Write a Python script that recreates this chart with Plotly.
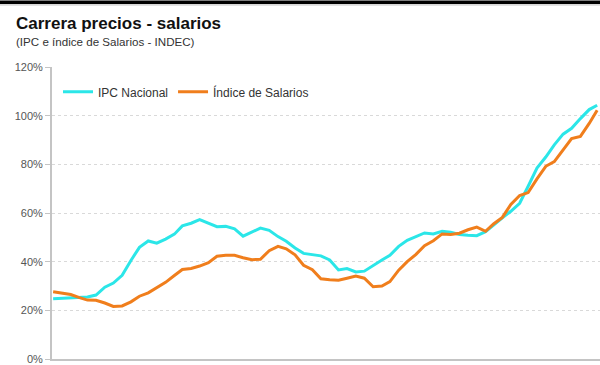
import plotly.graph_objects as go

months = [
    "2017-12-01",
    "2018-01-01", "2018-02-01", "2018-03-01", "2018-04-01", "2018-05-01", "2018-06-01",
    "2018-07-01", "2018-08-01", "2018-09-01", "2018-10-01", "2018-11-01", "2018-12-01",
    "2019-01-01", "2019-02-01", "2019-03-01", "2019-04-01", "2019-05-01", "2019-06-01",
    "2019-07-01", "2019-08-01", "2019-09-01", "2019-10-01", "2019-11-01", "2019-12-01",
    "2020-01-01", "2020-02-01", "2020-03-01", "2020-04-01", "2020-05-01", "2020-06-01",
    "2020-07-01", "2020-08-01", "2020-09-01", "2020-10-01", "2020-11-01", "2020-12-01",
    "2021-01-01", "2021-02-01", "2021-03-01", "2021-04-01", "2021-05-01", "2021-06-01",
    "2021-07-01", "2021-08-01", "2021-09-01", "2021-10-01", "2021-11-01", "2021-12-01",
    "2022-01-01", "2022-02-01", "2022-03-01", "2022-04-01", "2022-05-01", "2022-06-01",
    "2022-07-01", "2022-08-01", "2022-09-01", "2022-10-01", "2022-11-01", "2022-12-01",
    "2023-01-01", "2023-02-01", "2023-03-01",
]

ipc_nacional = [
    24.8,
    25.0, 25.4, 25.4, 25.5, 26.3, 29.5,
    31.2, 34.4, 40.5, 45.9, 48.5, 47.6,
    49.3, 51.3, 54.7, 55.8, 57.3, 55.8,
    54.4, 54.5, 53.5, 50.5, 52.1, 53.8,
    52.9, 50.3, 48.4, 45.6, 43.4, 42.8,
    42.4, 40.7, 36.6, 37.2, 35.8, 36.1,
    38.5, 40.7, 42.6, 46.3, 48.8, 50.2,
    51.8, 51.4, 52.5, 52.1, 51.2, 50.9,
    50.7, 52.3, 55.1, 58.0, 60.7, 64.0,
    71.0, 78.5, 83.0, 88.0, 92.4, 94.8,
    98.8, 102.5, 104.3,
]

indice_salarios = [
    27.6,
    27.2, 26.5, 25.3, 24.2, 24.1, 23.0,
    21.6, 21.8, 23.5, 25.8, 27.2, 29.3,
    31.5, 34.3, 36.8, 37.2, 38.2, 39.6,
    42.2, 42.6, 42.6, 41.6, 40.8, 41.0,
    44.5, 46.3, 45.3, 42.8, 38.5, 36.7,
    33.0, 32.6, 32.4, 33.2, 34.1, 33.2,
    29.7, 30.0, 31.8, 36.5, 40.0, 43.0,
    46.6, 48.6, 51.4, 51.2, 51.7, 53.1,
    54.2, 52.5, 55.5, 58.2, 63.5, 67.2,
    68.4, 74.0, 79.2, 81.1, 86.0, 90.6,
    91.5, 96.8, 102.2,
]

y_ticks = [0, 20, 40, 60, 80, 100, 120]
y_tick_labels = ["0%", "20%", "40%", "60%", "80%", "100%", "120%"]

W, H = 600, 365
ML, MR, MT, MB = 52, 0, 67, 4
PW, PH = W - ML - MR, H - MT - MB


def px_x(p):
    return (p - ML) / PW


def px_y(p):
    return (H - MB - p) / PH


fig = go.Figure()
fig.add_trace(go.Scatter(
    x=months, y=ipc_nacional, mode="lines", name="IPC Nacional",
    line=dict(color="#2be6e8", width=3),
))
fig.add_trace(go.Scatter(
    x=months, y=indice_salarios, mode="lines", name="Índice de Salarios",
    line=dict(color="#f07e1c", width=3),
))

fig.update_layout(
    width=W, height=H,
    margin=dict(l=ML, r=MR, t=MT, b=MB, pad=0),
    paper_bgcolor="white", plot_bgcolor="white",
    font=dict(family="Liberation Sans, Arial, sans-serif", color="#333"),
    showlegend=True,
    legend=dict(
        orientation="h", x=px_x(58), y=px_y(92), xanchor="left", yanchor="middle",
        font=dict(size=12, color="#333"), bgcolor="rgba(0,0,0,0)",
        itemwidth=30,
    ),
    xaxis=dict(
        range=["2017-11-27", "2023-03-11"], showticklabels=False, showgrid=False,
        showline=True, linecolor="#c4c4c4", linewidth=2, ticks="", zeroline=False,
        fixedrange=True,
    ),
    yaxis=dict(
        range=[0, 120], tickvals=y_ticks, ticktext=y_tick_labels,
        showline=True, linecolor="#c4c4c4", linewidth=2,
        ticks="outside", ticklen=5, tickcolor="#c4c4c4", tickwidth=1,
        tickfont=dict(size=11, color="#555"), ticklabeloverflow="allow",
        showgrid=True, gridcolor="#d9d9d9", griddash="dot", gridwidth=1,
        zeroline=False, fixedrange=True,
    ),
    shapes=[
        dict(type="rect", xref="paper", yref="paper", x0=px_x(0), x1=px_x(W),
             y0=px_y(3.5), y1=px_y(0), fillcolor="black", line=dict(width=0), layer="above"),
        dict(type="line", xref="paper", yref="paper", x0=px_x(0), x1=px_x(W),
             y0=px_y(4.5), y1=px_y(4.5), line=dict(color="#bbbbbb", width=1)),
    ],
    annotations=[
        dict(text="<b>Carrera precios - salarios</b>", xref="paper", yref="paper",
             x=px_x(14), y=px_y(23.5), xanchor="left", yanchor="middle", showarrow=False,
             font=dict(size=17, color="#111", family="Liberation Sans, Arial, sans-serif")),
        dict(text="(IPC e índice de Salarios - INDEC)", xref="paper", yref="paper",
             x=px_x(14), y=px_y(41.5), xanchor="left", yanchor="middle", showarrow=False,
             font=dict(size=11.6, color="#333", family="Liberation Sans, Arial, sans-serif")),
    ],
)

fig.write_html(
    "out.html",
    config={"displayModeBar": False},
    post_script="document.body.style.margin='0';document.body.style.overflow='hidden';",
)
